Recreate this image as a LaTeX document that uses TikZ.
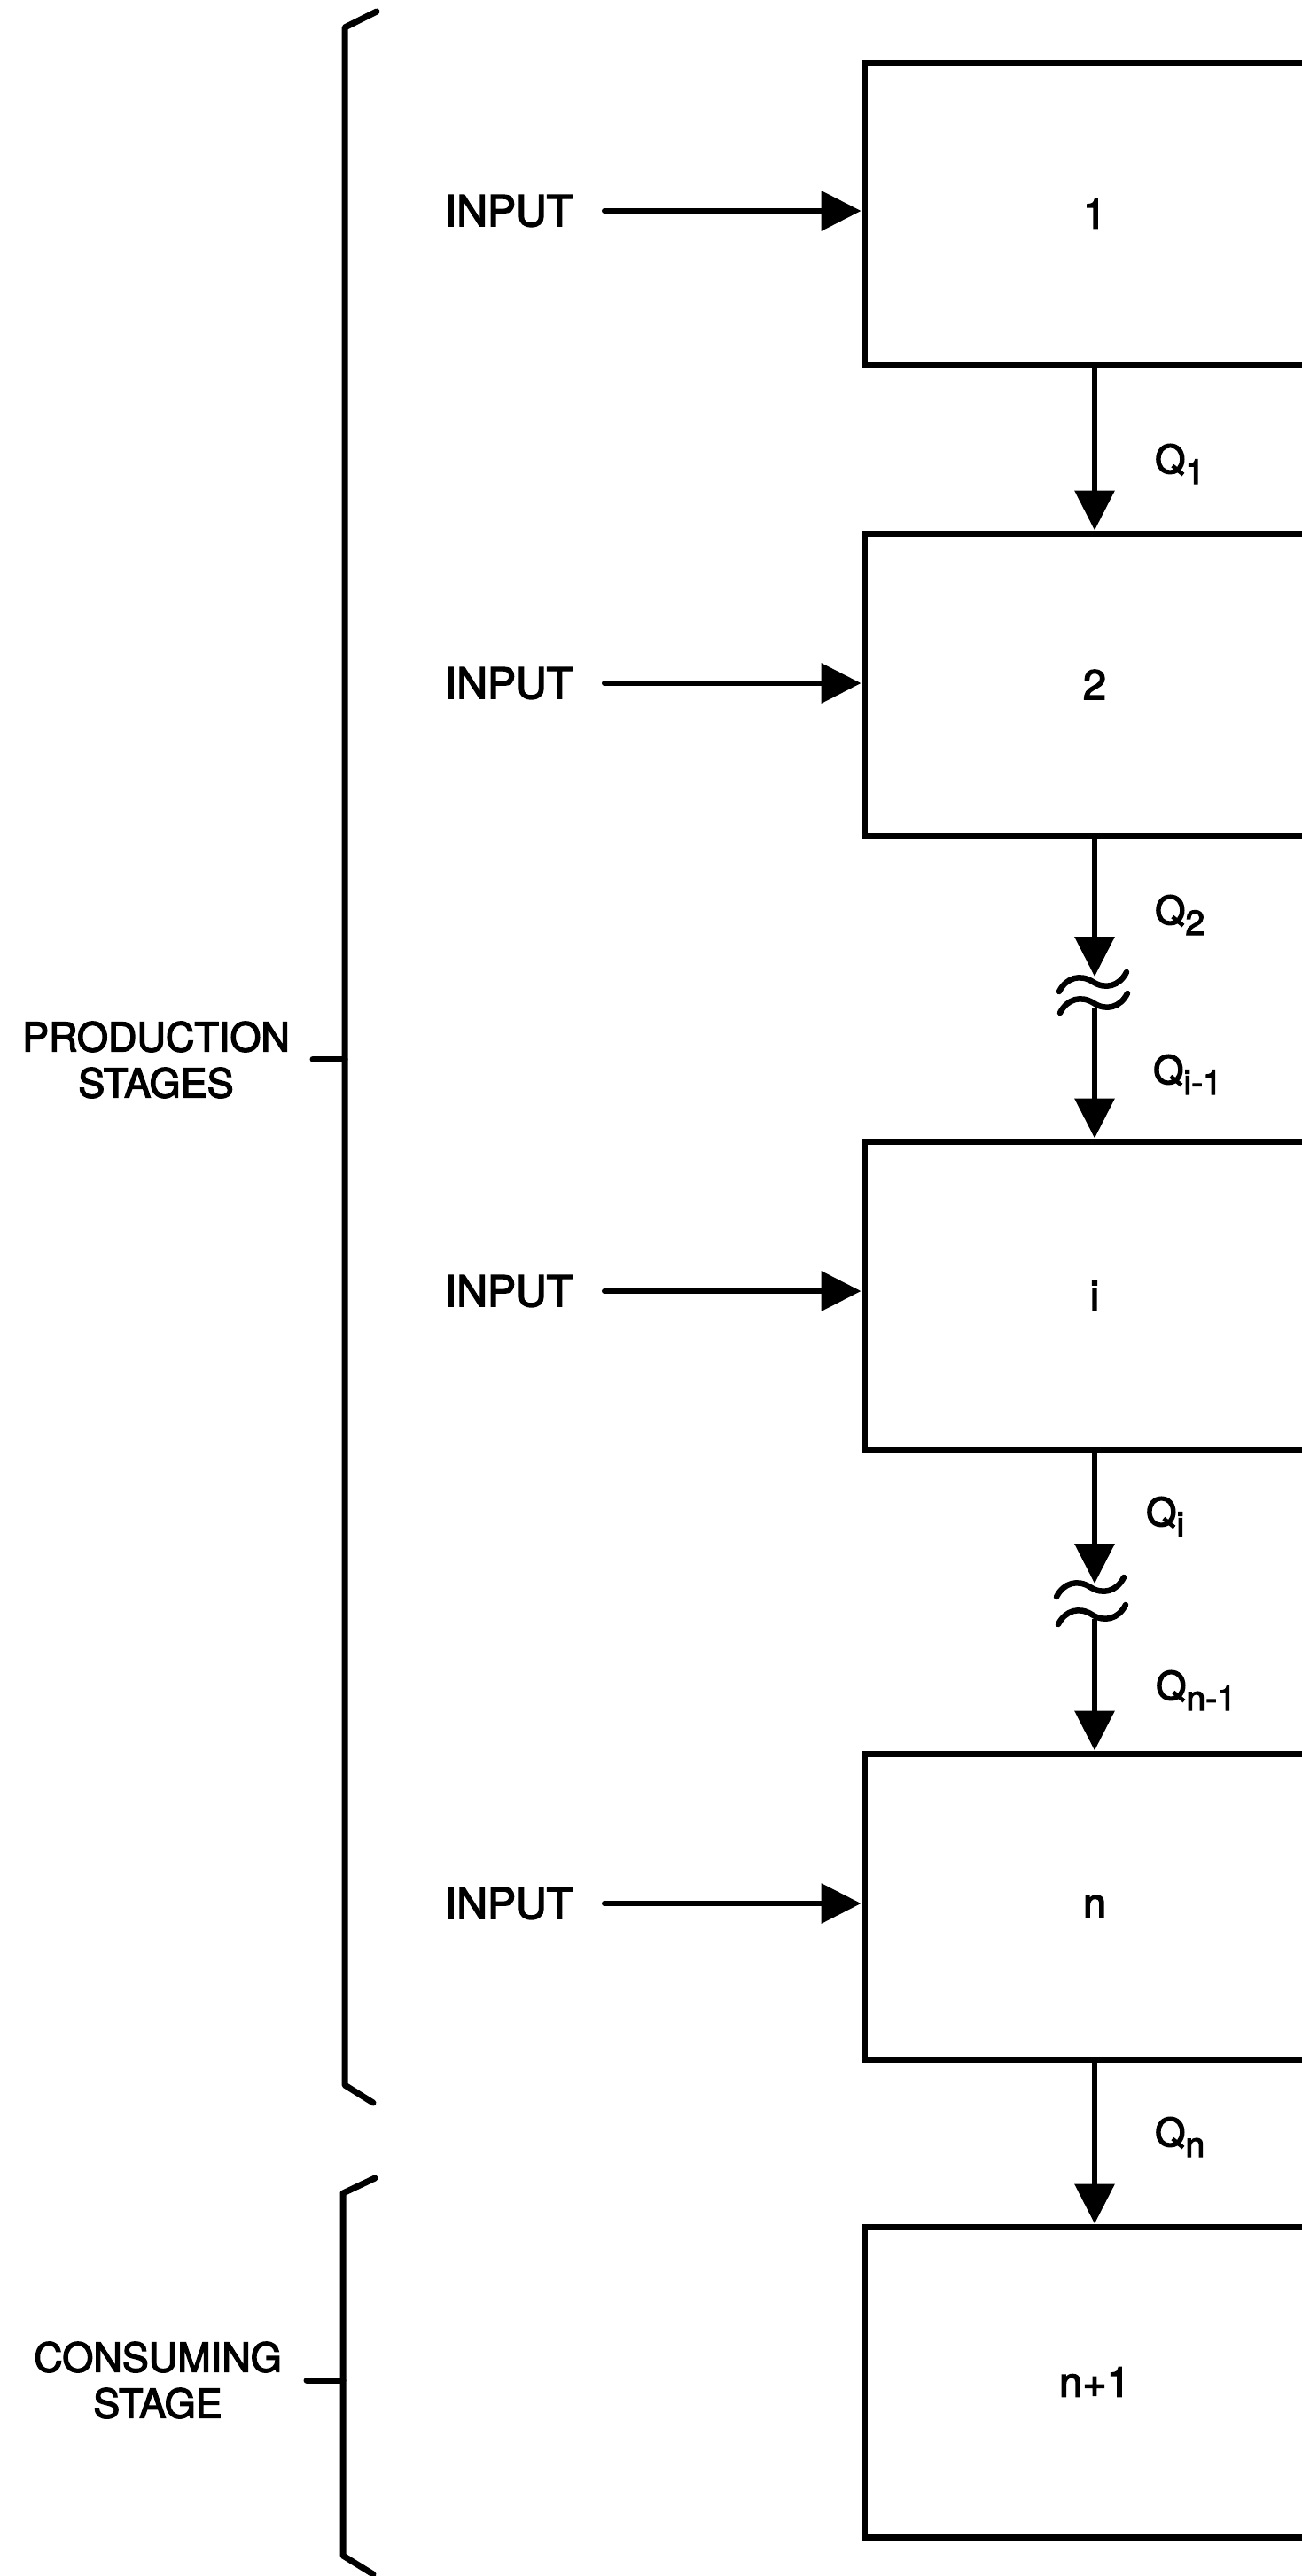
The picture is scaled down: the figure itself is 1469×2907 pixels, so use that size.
\documentclass[tikz,border=0pt]{standalone}
\usepackage{fontspec}
\setmainfont{TeX Gyre Heros}[FakeBold=3]
\usetikzlibrary{arrows.meta}
\newcommand\qsub[1]{Q\raisebox{-12pt}{\fontsize{39}{39}\selectfont #1}}
\begin{document}
\begin{tikzpicture}[x=1pt,y=-1pt,
  stagebox/.style={draw, line width=7pt, minimum width=520pt, inner sep=0pt, font=\fontsize{47}{47}\selectfont},
  lbl/.style={inner sep=0pt, font=\fontsize{48}{48}\selectfont},
  grp/.style={inner sep=0pt, align=center, font=\fontsize{45}{52}\selectfont},
  flow/.style={line width=6.5pt, -{Triangle[length=45pt,width=44pt]}},
  inflow/.style={flow, line cap=round, shorten <=36pt},
  bracepath/.style={line width=7pt, line join=round, line cap=round},
  brk/.style={line width=6.5pt, line cap=round},
  qlab/.style={inner sep=0pt, anchor=base west, font=\fontsize{44}{44}\selectfont}
]
\useasboundingbox (0,0) rectangle (1469,2907);

% stage boxes
\node[stagebox, minimum height=340pt] (b1)  at (1235,241)    {1};
\node[stagebox, minimum height=341pt] (b2)  at (1235,772.5)  {2};
\node[stagebox, minimum height=348pt] (bi)  at (1235,1462)   {i};
\node[stagebox, minimum height=345pt] (bn)  at (1235,2151.5) {n};
\node[stagebox, minimum height=350pt] (bn1) at (1235,2688)   {n+1};

% inputs
\node[lbl] (in1) at (574,238)  {INPUT};
\node[lbl] (in2) at (574,771)  {INPUT};
\node[lbl] (in3) at (574,1457) {INPUT};
\node[lbl] (in4) at (574,2148) {INPUT};
\draw[inflow] (in1) -- (in1 -| b1.west);
\draw[inflow] (in2) -- (in2 -| b2.west);
\draw[inflow] (in3) -- (in3 -| bi.west);
\draw[inflow] (in4) -- (in4 -| bn.west);

% flows between stages
\coordinate (k1a) at (1235,1102);
\coordinate (k1b) at (1235,1137);
\coordinate (w1a) at (1233,1108);
\coordinate (w1b) at (1234,1132);
\coordinate (k2a) at (1235,1787);
\coordinate (k2b) at (1235,1827);
\coordinate (w2a) at (1230,1791);
\coordinate (w2b) at (1232,1822);

\draw[flow] (b1) -- (b2);
\draw[flow] (b2) -- (k1a);
\draw[flow] (k1b) -- (bi);
\draw[flow] (bi) -- (k2a);
\draw[flow] (k2b) -- (bn);
\draw[flow] (bn) -- (bn1);

% break marks
\foreach \w in {w1a,w1b,w2a,w2b}{
  \draw[brk, shift={(\w)}] (-38,11) .. controls (-30,-5) and (-14,-9) .. (0,0)
        .. controls (14,9) and (30,5) .. (38,-11);
}

% flow labels
\node[qlab] (q1)  at (1303,534)  {\qsub{1}};
\node[qlab] (q2)  at (1303,1043) {\qsub{2}};
\node[qlab] (qi1) at (1301,1223) {\qsub{i-1}};
\node[qlab] (qi)  at (1293,1722) {\qsub{i}};
\node[qlab] (qn1) at (1304,1918) {\qsub{n-1}};
\node[qlab] (qn)  at (1303,2422) {\qsub{n}};

% group labels and braces
\node[grp] (prod) at (176,1196) {PRODUCTION\\STAGES};
\node[grp] (cons) at (178,2686) {CONSUMING\\STAGE};

\draw[bracepath] (425,13) -- (389,31) -- (389,2353) -- (421,2373);
\draw[bracepath] (353,1195) -- (389,1195);
\draw[bracepath] (423,2458) -- (387,2475) -- (387,2884) -- (421,2905);
\draw[bracepath] (346,2686) -- (387,2686);
\end{tikzpicture}
\end{document}
